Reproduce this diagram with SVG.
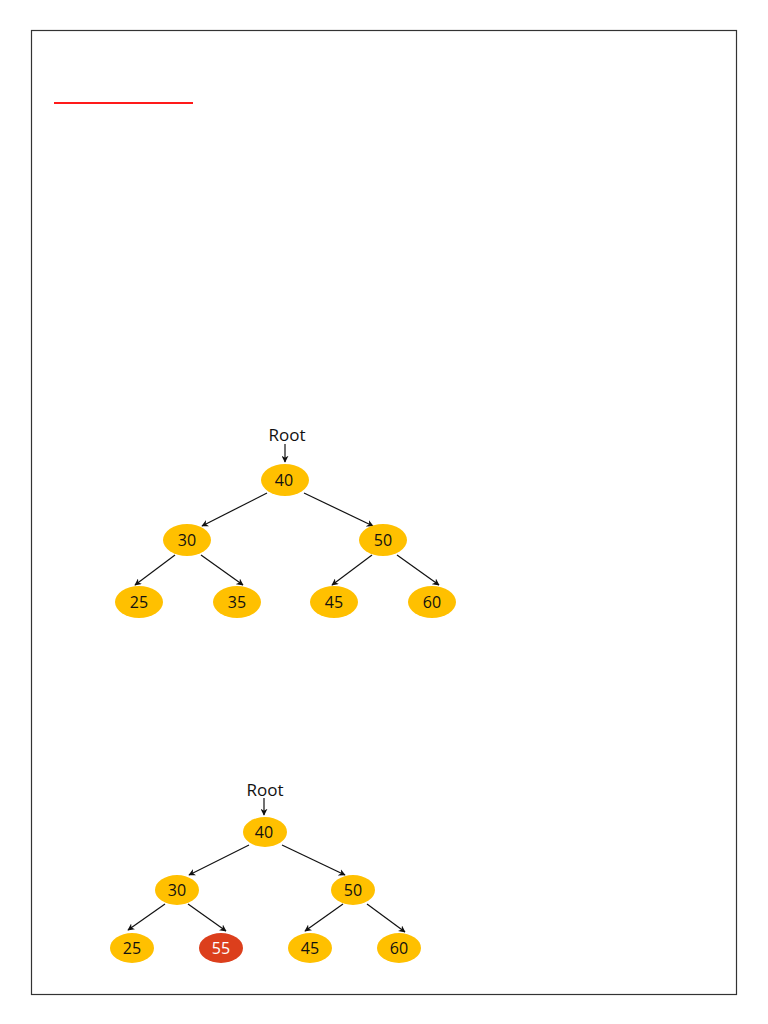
<svg xmlns="http://www.w3.org/2000/svg" width="768" height="1024" viewBox="0 0 768 1024">
<defs>
<style>
.n{fill:#FFC000}
.r{fill:#DC3F1C}
.t{font-family:"Open Sans","Liberation Sans",sans-serif;font-size:16px;fill:#111;text-anchor:middle}
.k{font-size:17px}
.w{fill:#fff}
.e{stroke:#111;stroke-width:1.2;fill:none;marker-end:url(#a)}
</style>
<marker id="a" viewBox="0 0 10 10" refX="9" refY="5" markerWidth="7" markerHeight="7" orient="auto" markerUnits="userSpaceOnUse">
<path d="M0,0 L10,5 L0,10 L3,5 z" fill="#111"/>
</marker>
</defs>
<rect x="0" y="0" width="768" height="1024" fill="#fff"/>
<rect x="31.5" y="30.5" width="705" height="964" fill="none" stroke="#333" stroke-width="1.2"/>
<line x1="54" y1="103" x2="193" y2="103" stroke="#FF1A1A" stroke-width="2"/>

<g id="connectors">
<line class="e" x1="285" y1="444" x2="285" y2="462"/>
<line class="e" x1="267" y1="493" x2="202" y2="526"/>
<line class="e" x1="304" y1="493" x2="373" y2="526"/>
<line class="e" x1="175" y1="555" x2="135" y2="585"/>
<line class="e" x1="201" y1="555" x2="243" y2="585"/>
<line class="e" x1="372" y1="555" x2="332" y2="585"/>
<line class="e" x1="397" y1="555" x2="439" y2="585"/>

<line class="e" x1="264" y1="798" x2="264" y2="815"/>
<line class="e" x1="249" y1="845" x2="189" y2="875"/>
<line class="e" x1="282" y1="845" x2="345" y2="875"/>
<line class="e" x1="165" y1="904" x2="128" y2="930"/>
<line class="e" x1="188" y1="904" x2="226" y2="931"/>
<line class="e" x1="343" y1="904" x2="305" y2="931"/>
<line class="e" x1="367" y1="904" x2="405" y2="932"/>
</g>

<g id="root1"><text class="t k" x="287" y="441">Root</text></g>
<g id="t1n40"><ellipse class="n" cx="285" cy="480" rx="24" ry="16"/><text class="t" x="284" y="486">40</text></g>
<g id="t1n30"><ellipse class="n" cx="187" cy="540" rx="24" ry="16"/><text class="t" x="187" y="546">30</text></g>
<g id="t1n50"><ellipse class="n" cx="383" cy="540" rx="24" ry="16"/><text class="t" x="383" y="546">50</text></g>
<g id="t1n25"><ellipse class="n" cx="139" cy="602" rx="24" ry="16"/><text class="t" x="139" y="608">25</text></g>
<g id="t1n35"><ellipse class="n" cx="237" cy="602" rx="24" ry="16"/><text class="t" x="237" y="608">35</text></g>
<g id="t1n45"><ellipse class="n" cx="334" cy="602" rx="24" ry="16"/><text class="t" x="334" y="608">45</text></g>
<g id="t1n60"><ellipse class="n" cx="432" cy="602" rx="24" ry="16"/><text class="t" x="432" y="608">60</text></g>

<g id="root2"><text class="t k" x="265" y="796">Root</text></g>
<g id="t2n40"><ellipse class="n" cx="265" cy="832" rx="22" ry="15"/><text class="t" x="264" y="838">40</text></g>
<g id="t2n30"><ellipse class="n" cx="177" cy="890" rx="22" ry="15"/><text class="t" x="177" y="896">30</text></g>
<g id="t2n50"><ellipse class="n" cx="353" cy="890" rx="22" ry="15"/><text class="t" x="353" y="896">50</text></g>
<g id="t2n25"><ellipse class="n" cx="132" cy="948" rx="22" ry="15"/><text class="t" x="132" y="954">25</text></g>
<g id="t2n55"><ellipse class="r" cx="221" cy="948" rx="22" ry="15"/><text class="t w" x="221" y="954">55</text></g>
<g id="t2n45"><ellipse class="n" cx="310" cy="948" rx="22" ry="15"/><text class="t" x="310" y="954">45</text></g>
<g id="t2n60"><ellipse class="n" cx="399" cy="948" rx="22" ry="15"/><text class="t" x="399" y="954">60</text></g>
</svg>
